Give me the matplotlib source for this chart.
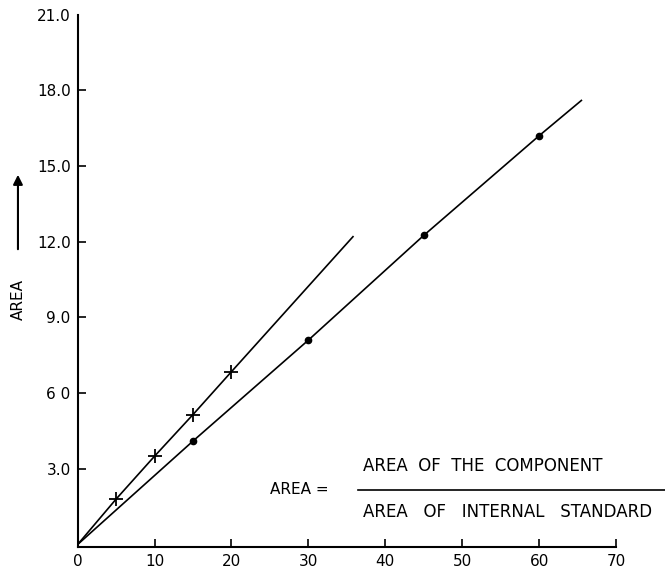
import numpy as np
import matplotlib
matplotlib.use('Agg')
import matplotlib.pyplot as plt

# Data
conc_cross = [0, 5, 10, 15, 20, 35.8]
area_cross = [0, 1.8, 3.5, 5.15, 6.85, 12.2]
conc_dot = [0, 15, 30, 45, 60, 65.5]
area_dot = [0, 4.1, 8.1, 12.25, 16.2, 17.6]

x_ticks = [0, 10, 20, 30, 40, 50, 60, 70]
y_ticks = [3.0, 6.0, 9.0, 12.0, 15.0, 18.0, 21.0]
y_labels = ['3.0', '6 0', '9.0', '12.0', '15.0', '18.0', '21.0']

fig = plt.figure(figsize=(6.65, 5.73), dpi=100)
ax = fig.add_axes([0.1168, 0.0454, 0.8095, 0.929])

# lines through the measured points
ax.plot(conc_cross, area_cross, color='black', lw=1.2)
ax.plot(conc_dot, area_dot, color='black', lw=1.2)

# markers only at the measured points (not at origin / line ends)
ax.plot(conc_cross[1:-1], area_cross[1:-1], linestyle='none', marker='+',
        ms=10, mew=1.3, color='black')
ax.plot(conc_dot[1:-1], area_dot[1:-1], linestyle='none', marker='o',
        ms=4.5, color='black')

ax.set_xlim(0, 70)
ax.set_ylim(-0.1, 21.0)
ax.set_xticks(x_ticks)
ax.set_yticks(y_ticks)
ax.set_yticklabels(y_labels)

for s in ['top', 'right']:
    ax.spines[s].set_visible(False)
for s in ['left', 'bottom']:
    ax.spines[s].set_linewidth(1.5)

ax.tick_params(axis='both', direction='in', length=6, width=1.2,
               labelsize=11, pad=5)
# no tick mark at the very top of the y axis
ax.yaxis.get_major_ticks()[-1].tick1line.set_visible(False)

# y axis label with arrow
fig.text(0.027, 1 - 300 / 573, 'AREA', rotation=90, ha='center', va='center', fontsize=11)
ax.annotate('', xy=(0.027, 1 - 172 / 573), xytext=(0.027, 1 - 252 / 573),
            xycoords='figure fraction',
            arrowprops=dict(arrowstyle='-|>', color='black', lw=1.5,
                            mutation_scale=14))

# formula
fig.text(270 / 665, 1 - 490 / 573, 'AREA =', ha='left', va='center', fontsize=11)
fig.text(363 / 665, 1 - 466 / 573, 'AREA  OF  THE  COMPONENT', ha='left',
         va='center', fontsize=12)
fig.text(363 / 665, 1 - 512 / 573, 'AREA   OF   INTERNAL   STANDARD', ha='left',
         va='center', fontsize=12)
fig.add_artist(plt.Line2D([358 / 665, 665 / 665], [1 - 490 / 573, 1 - 490 / 573],
                          color='black', lw=1.2, transform=fig.transFigure))

fig.savefig('out.png', dpi=100)
